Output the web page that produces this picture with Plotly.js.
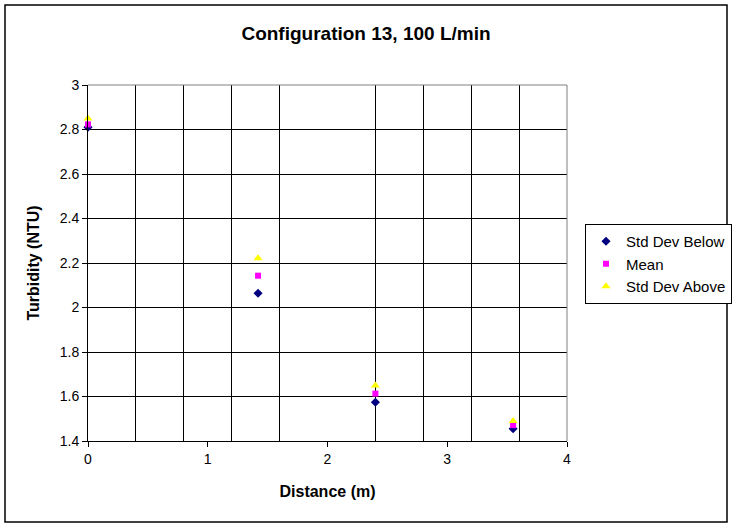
<!DOCTYPE html>
<html>
<head>
<meta charset="utf-8">
<script src="https://cdn.plot.ly/plotly-3.0.1.min.js"></script>
<style>
  html, body { margin: 0; padding: 0; background: #fff; }
  #chart { width: 736px; height: 529px; }
</style>
</head>
<body>
<div id="chart"></div>
<script>
const distance = [0, 1.42, 2.4, 3.55];
const stdBelow = [2.81, 2.064, 1.574, 1.455];
const mean = [2.823, 2.143, 1.613, 1.471];
const stdAbove = [2.85, 2.221, 1.65, 1.49];

const M = { l: 88, r: 169, t: 85, b: 88 };
const W = 736 - M.l - M.r, H = 529 - M.t - M.b;
const px = v => (v - M.l) / W, py = v => (529 - M.b - v) / H;

const font = { family: "Liberation Sans, Arial, sans-serif", color: "#000" };

const traces = [
  { x: distance, y: stdBelow, name: "Std Dev Below", marker: { symbol: "diamond", color: "#000080", size: 7 } },
  { x: distance, y: mean, name: "Mean", marker: { symbol: "square", color: "#ff00ff", size: 6 } },
  { x: distance, y: stdAbove, name: "Std Dev Above", marker: { symbol: "triangle-up", color: "#ffff00", size: 8 } }
].map(t => ({ ...t, type: "scatter", mode: "markers", cliponaxis: false }));

const layout = {
  width: 736, height: 529,
  margin: M,
  paper_bgcolor: "#fff", plot_bgcolor: "#fff",
  font: { ...font, size: 14 },
  title: { text: "<b>Configuration 13, 100 L/min</b>", font: { ...font, size: 19 }, x: 366 / 736, xref: "container", xanchor: "center", y: 1 - 33 / 529, yanchor: "middle" },
  xaxis: {
    range: [0, 4], dtick: 1, tick0: 0, showgrid: false, zeroline: false,
    showline: true, linecolor: "#000", linewidth: 1,
    ticks: "outside", ticklen: 5, tickcolor: "#000",
    minor: { dtick: 0.4, tick0: 0, showgrid: true, gridcolor: "#000", gridwidth: 1, ticks: "" },
    tickfont: { ...font, size: 14 },
    title: { text: "<b>Distance (m)</b>", font: { ...font, size: 16 }, standoff: 20 }
  },
  yaxis: {
    range: [1.4, 3], dtick: 0.2, tick0: 1.4, showgrid: true, gridcolor: "#000", gridwidth: 1, zeroline: false,
    showline: true, linecolor: "#000", linewidth: 1,
    ticks: "outside", ticklen: 5, tickcolor: "#000",
    tickfont: { ...font, size: 14 },
    title: { text: "<b>Turbidity (NTU)</b>", font: { ...font, size: 16 }, standoff: 16 }
  },
  legend: {
    xref: "container", yref: "container",
    x: 585 / 736, y: 1 - 224 / 529, xanchor: "left", yanchor: "top",
    bordercolor: "#000", borderwidth: 1, bgcolor: "#fff",
    font: { ...font, size: 15 }, tracegroupgap: 0, itemwidth: 30
  },
  shapes: [
    { type: "line", xref: "paper", yref: "paper", x0: 0, x1: 1, y0: 1, y1: 1, line: { color: "#808080", width: 1 } },
    { type: "line", xref: "paper", yref: "paper", x0: 1, x1: 1, y0: 0, y1: 1, line: { color: "#808080", width: 1 } },
    { type: "rect", xref: "paper", yref: "paper", x0: px(5), x1: px(727), y0: py(522), y1: py(5), line: { color: "#000", width: 1.5 } }
  ]
};

Plotly.newPlot("chart", traces, layout, { displayModeBar: false, staticPlot: true });
</script>
</body>
</html>
